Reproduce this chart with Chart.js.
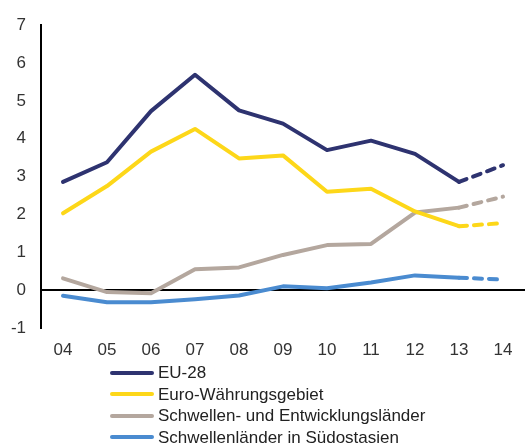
<!DOCTYPE html>
<html>
<head>
<meta charset="utf-8">
<script src="https://cdn.jsdelivr.net/npm/chart.js@4"></script>
<style>
  body { margin: 0; background: #fff; }
  #wrap { position: relative; width: 525px; height: 448px; }
  #legend { position: absolute; left: 110px; top: 362px; font: 17px "Liberation Sans", Arial, sans-serif; color: #222; }
  #legend div { height: 21.5px; line-height: 21.5px; white-space: nowrap; }
  #legend span { display: inline-block; width: 44px; height: 4px; border-radius: 2px; vertical-align: middle; margin-right: 4px; margin-top: -2px; }
</style>
</head>
<body>
<div id="wrap">
  <canvas id="chart" width="525" height="448"></canvas>
  <div id="legend"></div>
</div>
<script>
var years = ["04", "05", "06", "07", "08", "09", "10", "11", "12", "13", "14"];
var eu28 = [2.86, 3.38, 4.73, 5.69, 4.75, 4.4, 3.7, 3.95, 3.6, 2.86, 3.3];
var euroArea = [2.03, 2.75, 3.66, 4.26, 3.48, 3.56, 2.6, 2.68, 2.08, 1.69, 1.77];
var emerging = [0.31, -0.05, -0.08, 0.55, 0.6, 0.93, 1.19, 1.22, 2.05, 2.18, 2.47];
var seAsia = [-0.15, -0.32, -0.32, -0.24, -0.14, 0.1, 0.05, 0.2, 0.39, 0.33, 0.28];
var yTicks = [-1, 0, 1, 2, 3, 4, 5, 6, 7];

// last segment (13 -> 14) is a forecast, drawn dashed
function series(label, data, color) {
  return {
    label: label,
    data: data,
    borderColor: color,
    backgroundColor: color,
    borderWidth: 4,
    pointRadius: 0,
    tension: 0,
    borderCapStyle: 'round',
    borderJoinStyle: 'round',
    segment: {
      borderDash: function(ctx) { return ctx.p1DataIndex === years.length - 1 ? [8, 7] : undefined; }
    }
  };
}

var datasets = [
  series("EU-28", eu28, "#2e3370"),
  series("Euro-Währungsgebiet", euroArea, "#fdd719"),
  series("Schwellen- und Entwicklungsländer", emerging, "#b4a79e"),
  series("Schwellenländer in Südostasien", seAsia, "#4a8bd0")
];

new Chart(document.getElementById("chart"), {
  type: 'line',
  data: { labels: years, datasets: datasets },
  options: {
    responsive: false,
    animation: false,
    layout: { padding: { top: 20, right: 0, bottom: 86, left: 0 } },
    plugins: { legend: { display: false }, tooltip: { enabled: false } },
    scales: {
      x: {
        offset: true,
        grid: { display: false, drawTicks: false },
        border: { display: false },
        ticks: { color: "#333", padding: 12, font: { family: "Liberation Sans", size: 17 } },
        afterFit: function(s) { s.height = 34; }
      },
      y: {
        min: -1,
        max: 7,
        afterBuildTicks: function(s) { s.ticks = yTicks.map(function(v) { return { value: v }; }); },
        grid: {
          drawTicks: false,
          lineWidth: 2,
          color: function(ctx) { return ctx.tick && ctx.tick.value === 0 ? "#000" : "rgba(0,0,0,0)"; }
        },
        border: { display: true, color: "#000", width: 2 },
        ticks: { color: "#333", padding: 15, font: { family: "Liberation Sans", size: 17 } },
        afterFit: function(s) { s.width = 41; }
      }
    }
  }
});

var legend = document.getElementById("legend");
datasets.forEach(function(d) {
  var row = document.createElement("div");
  var sw = document.createElement("span");
  sw.style.background = d.borderColor;
  row.appendChild(sw);
  row.appendChild(document.createTextNode(d.label));
  legend.appendChild(row);
});
</script>
</body>
</html>
